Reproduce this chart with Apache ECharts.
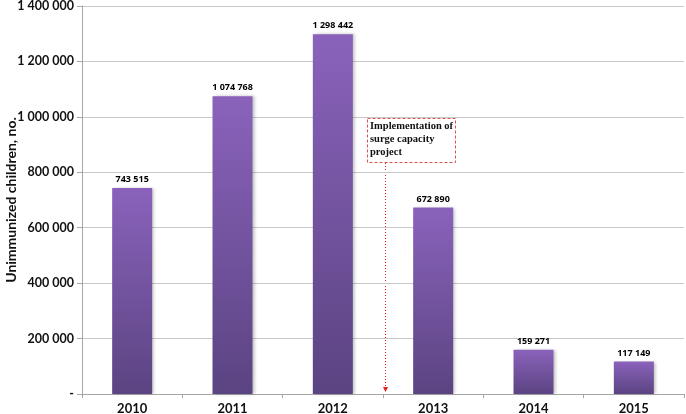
<!DOCTYPE html>
<html>
<head>
<meta charset="utf-8">
<script src="https://cdn.jsdelivr.net/npm/echarts@6/dist/echarts.min.js"></script>
<style>
  html, body { margin: 0; padding: 0; background: #fff; }
  #chart { width: 686px; height: 414px; }
</style>
</head>
<body>
<div id="chart"></div>
<script>
const years = ["2010", "2011", "2012", "2013", "2014", "2015"];
const unimmunized = [743515, 1074768, 1298442, 672890, 159271, 117149];
const noteLines = ["Implementation of", "surge capacity", "project"];

// thousands with a space, like "1 298 442"
function spaced(v) {
  if (v === 0) return "-";
  return String(v).replace(/\B(?=(\d{3})+(?!\d))/g, " ");
}

const chart = echarts.init(document.getElementById("chart"));

chart.setOption({
  animation: false,
  textStyle: { fontFamily: "Lato" },
  grid: { left: 82, right: 2, top: 6, bottom: 20, outerBoundsMode: "none" },
  xAxis: {
    type: "category",
    data: years,
    axisLine: { lineStyle: { color: "#a6a6a6" } },
    axisTick: { show: true, lineStyle: { color: "#a6a6a6" }, length: 4 },
    axisLabel: { color: "#111", fontWeight: "bold", fontSize: 13, margin: 8 },
  },
  yAxis: {
    type: "value",
    min: 0,
    max: 1400000,
    interval: 200000,
    name: "Unimmunized children, no.",
    nameLocation: "middle",
    nameGap: 64,
    nameMoveOverlap: false,
    nameTextStyle: { color: "#111", fontWeight: "bold", fontSize: 14 },
    axisLine: { show: true, lineStyle: { color: "#a6a6a6" } },
    axisTick: { show: true, lineStyle: { color: "#a6a6a6" }, length: 5 },
    axisLabel: {
      color: "#111",
      fontWeight: "bold",
      fontSize: 12.5,
      margin: 8,
      formatter: spaced,
    },
    splitLine: { lineStyle: { color: "#c8c8c8" } },
  },
  series: [
    {
      type: "bar",
      data: unimmunized,
      barWidth: 40,
      itemStyle: {
        color: new echarts.graphic.LinearGradient(0, 0, 0, 1, [
          { offset: 0, color: "#8a62bb" },
          { offset: 1, color: "#5b4482" },
        ]),
        shadowColor: "rgba(0,0,0,0.25)",
        shadowBlur: 3,
        shadowOffsetX: 2,
      },
      label: {
        show: true,
        position: "top",
        distance: 4,
        color: "#000",
        fontFamily: "Open Sans",
        fontWeight: "bold",
        fontSize: 9,
        formatter: (p) => spaced(p.value),
      },
    },
  ],
  graphic: [
    {
      type: "rect",
      shape: { x: 367.5, y: 118.5, width: 88, height: 44 },
      style: { fill: "none", stroke: "#d9534f", lineWidth: 1, lineDash: [3, 2] },
    },
    {
      type: "text",
      left: 370,
      top: 120,
      style: {
        text: noteLines.join("\n"),
        font: "bold 10.5px 'Liberation Serif', serif",
        lineHeight: 13,
        fill: "#111",
      },
    },
    {
      type: "line",
      shape: { x1: 385.5, y1: 163, x2: 385.5, y2: 388 },
      style: { stroke: "#e02020", lineWidth: 1, lineDash: [1, 2] },
    },
    {
      type: "polygon",
      shape: { points: [[383, 387], [388, 387], [385.5, 392]] },
      style: { fill: "#e02020" },
    },
  ],
});
</script>
</body>
</html>
